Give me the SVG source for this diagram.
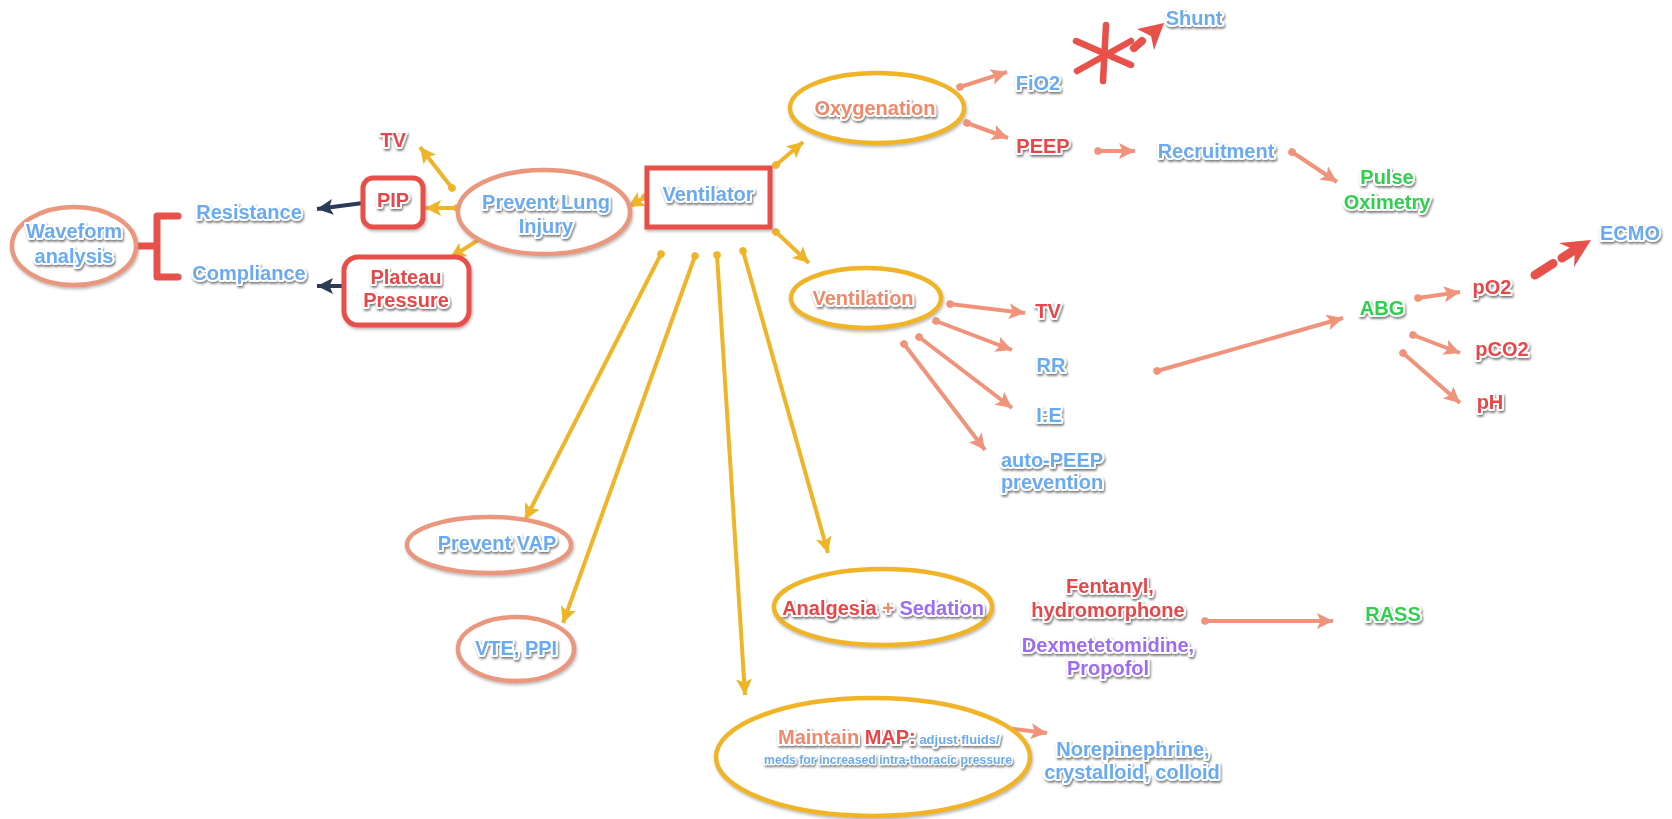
<svg xmlns="http://www.w3.org/2000/svg" width="1672" height="819" viewBox="0 0 1672 819">
<style>
.t{font-family:"Liberation Sans",Arial,sans-serif;font-weight:bold;font-size:20px;text-anchor:middle;stroke:#fff;stroke-width:4;stroke-linejoin:round;paint-order:stroke;filter:url(#ts)}
.b{fill:#6aaaf2}.r{fill:#e8474a}.s{fill:#f0896b}.g{fill:#2ed14e}.p{fill:#9c6cf2}
.es{fill:#fff;stroke:#eb977e;stroke-width:4.5;filter:url(#ss)}
.ey{fill:#fff;stroke:#f0b428;stroke-width:4.5;filter:url(#ss)}
.rb{fill:#fff;stroke:#e8504a;stroke-width:5;filter:url(#ss)}
.cy{stroke:#f0b428;stroke-width:4;fill:none;marker-start:url(#dy);marker-end:url(#ay)}
.cs{stroke:#f0937a;stroke-width:4;fill:none;marker-start:url(#ds);marker-end:url(#as)}
.cd{stroke:#2b3b55;stroke-width:4;fill:none;marker-end:url(#ad)}
.rd{stroke:#e8504a;fill:none;stroke-linecap:round}
</style>
<defs>
<filter id="ts" x="-10%" y="-30%" width="120%" height="160%"><feDropShadow dx="1" dy="1.8" stdDeviation="0.8" flood-color="#333" flood-opacity="0.65"/></filter>
<filter id="ss" x="-10%" y="-20%" width="120%" height="140%"><feDropShadow dx="1" dy="2" stdDeviation="1.5" flood-color="#666" flood-opacity="0.45"/></filter>
<marker id="ay" markerUnits="userSpaceOnUse" markerWidth="18" markerHeight="18" refX="16" refY="8" orient="auto"><path d="M0,0 L16,8 L0,16 L3.5,8 z" fill="#f0b428"/></marker>
<marker id="as" markerUnits="userSpaceOnUse" markerWidth="18" markerHeight="18" refX="16" refY="8" orient="auto"><path d="M0,0 L16,8 L0,16 L3.5,8 z" fill="#f0937a"/></marker>
<marker id="ad" markerUnits="userSpaceOnUse" markerWidth="18" markerHeight="18" refX="16" refY="8" orient="auto"><path d="M0,0 L16,8 L0,16 L3.5,8 z" fill="#2b3b55"/></marker>
<marker id="dy" markerUnits="userSpaceOnUse" markerWidth="10" markerHeight="10" refX="5" refY="5" orient="auto"><circle cx="5" cy="5" r="3.8" fill="#f0b428"/></marker>
<marker id="ds" markerUnits="userSpaceOnUse" markerWidth="10" markerHeight="10" refX="5" refY="5" orient="auto"><circle cx="5" cy="5" r="3.8" fill="#f0937a"/></marker>
</defs>
<rect width="1672" height="819" fill="#fff"/>

<g id="connectors">
<line class="cy" x1="645" y1="197" x2="628" y2="207"/>
<line class="cy" x1="452" y1="188" x2="420" y2="147"/>
<line class="cy" x1="457" y1="208" x2="425" y2="208"/>
<line class="cy" x1="494" y1="230" x2="450" y2="258"/>
<line class="cy" x1="776" y1="165" x2="803" y2="142"/>
<line class="cy" x1="776" y1="232" x2="809" y2="263"/>
<line class="cy" x1="661" y1="254" x2="525" y2="520"/>
<line class="cy" x1="695" y1="256" x2="563" y2="623"/>
<line class="cy" x1="717" y1="255" x2="745" y2="695"/>
<line class="cy" x1="743" y1="251" x2="828" y2="553"/>
<line class="cd" x1="363" y1="203" x2="317" y2="209"/>
<line class="cd" x1="345" y1="286" x2="317" y2="286"/>
<line class="cs" x1="960" y1="87" x2="1007" y2="72"/>
<line class="cs" x1="967" y1="123" x2="1008" y2="138"/>
<line class="cs" x1="1098" y1="151" x2="1135" y2="151"/>
<line class="cs" x1="1292" y1="152" x2="1337" y2="182"/>
<line class="cs" x1="950" y1="304" x2="1025" y2="313"/>
<line class="cs" x1="936" y1="321" x2="1012" y2="350"/>
<line class="cs" x1="919" y1="337" x2="1012" y2="408"/>
<line class="cs" x1="904" y1="344" x2="985" y2="450"/>
<line class="cs" x1="1157" y1="371" x2="1343" y2="318"/>
<line class="cs" x1="1418" y1="298" x2="1460" y2="292"/>
<line class="cs" x1="1413" y1="335" x2="1460" y2="353"/>
<line class="cs" x1="1403" y1="353" x2="1460" y2="403"/>
<line class="cs" x1="1205" y1="621" x2="1333" y2="621"/>
<line x1="1005" y1="728" x2="1047" y2="733" stroke="#f0937a" stroke-width="4" marker-end="url(#as)"/>
<path class="rd" d="M137,246 H157 M157,216 V277 M157,216 H178 M157,277 H178" stroke-width="7" stroke-linecap="butt"/>
<g id="star">
<line class="rd" x1="1106" y1="25" x2="1103" y2="81" stroke-width="6.5"/>
<line class="rd" x1="1076" y1="41" x2="1131" y2="65" stroke-width="6.5"/>
<line class="rd" x1="1077" y1="71" x2="1131" y2="41" stroke-width="6.5"/>
</g>
<g id="to-shunt">
<line class="rd" x1="1134" y1="48" x2="1142" y2="41" stroke-width="8"/>
<polygon points="1164,23 1154,50 1151,36 1137,29" fill="#e8504a"/>
</g>
<g id="to-ecmo">
<line class="rd" x1="1535" y1="275" x2="1553" y2="263.5" stroke-width="9"/>
<line class="rd" x1="1562" y1="258" x2="1576" y2="249" stroke-width="9"/>
<polygon points="1591,240 1574,267 1575,250 1559,243" fill="#e8504a"/>
</g>
</g>

<g id="waveform"><ellipse class="es" cx="74" cy="246" rx="62" ry="39"/><text class="t b" x="74" y="238">Waveform</text><text class="t b" x="74" y="263">analysis</text></g>
<g id="resistance"><text class="t b" x="249" y="219">Resistance</text></g>
<g id="compliance"><text class="t b" x="249" y="280">Compliance</text></g>
<g id="pip"><rect class="rb" x="363" y="178" width="60" height="49" rx="10"/><text class="t r" x="393" y="207">PIP</text></g>
<g id="plateau"><rect class="rb" x="344" y="257" width="125" height="68" rx="14"/><text class="t r" x="406" y="284">Plateau</text><text class="t r" x="406" y="307">Pressure</text></g>
<g id="tv-left"><text class="t r" x="393" y="147">TV</text></g>
<g id="prevent-lung"><ellipse class="es" cx="544" cy="212" rx="86" ry="42"/><text class="t b" x="546" y="209">Prevent Lung</text><text class="t b" x="546" y="233">Injury</text></g>
<g id="ventilator"><rect class="rb" x="647" y="168" width="123" height="59"/><text class="t b" x="708" y="201">Ventilator</text></g>
<g id="oxygenation"><ellipse class="ey" cx="877" cy="108" rx="87" ry="35"/><text class="t s" x="875" y="115">Oxygenation</text></g>
<g id="fio2"><text class="t b" x="1038" y="90">FiO2</text></g>
<g id="peep"><text class="t r" x="1043" y="153">PEEP</text></g>
<g id="shunt"><text class="t b" x="1194" y="25">Shunt</text></g>
<g id="recruitment"><text class="t b" x="1216" y="158">Recruitment</text></g>
<g id="pulse"><text class="t g" x="1387" y="184">Pulse</text><text class="t g" x="1387" y="209">Oximetry</text></g>
<g id="ecmo"><text class="t b" x="1630" y="240">ECMO</text></g>
<g id="po2"><text class="t r" x="1492" y="294">pO2</text></g>
<g id="abg"><text class="t g" x="1382" y="315">ABG</text></g>
<g id="pco2"><text class="t r" x="1502" y="356">pCO2</text></g>
<g id="ph"><text class="t r" x="1490" y="409">pH</text></g>
<g id="ventilation"><ellipse class="ey" cx="866" cy="298" rx="75" ry="30"/><text class="t s" x="863" y="305">Ventilation</text></g>
<g id="tv-right"><text class="t r" x="1048" y="318">TV</text></g>
<g id="rr"><text class="t b" x="1051" y="372">RR</text></g>
<g id="ie"><text class="t b" x="1049" y="422">I:E</text></g>
<g id="autopeep"><text class="t b" x="1052" y="467">auto-PEEP</text><text class="t b" x="1052" y="489">prevention</text></g>
<g id="vap"><ellipse class="es" cx="489" cy="545" rx="82" ry="28"/><text class="t b" x="497" y="550">Prevent VAP</text></g>
<g id="vte"><ellipse class="es" cx="516" cy="649" rx="58" ry="32"/><text class="t b" x="516" y="655">VTE, PPI</text></g>
<g id="analgesia"><ellipse class="ey" cx="883" cy="607" rx="109" ry="38"/><text class="t" x="883" y="615"><tspan class="r">Analgesia</tspan><tspan class="s"> + </tspan><tspan class="p">Sedation</tspan></text></g>
<g id="opioids"><text class="t r" x="1110" y="593">Fentanyl,</text><text class="t r" x="1108" y="617">hydromorphone</text></g>
<g id="sedatives"><text class="t p" x="1108" y="652">Dexmetetomidine,</text><text class="t p" x="1108" y="675">Propofol</text></g>
<g id="rass"><text class="t g" x="1393" y="621">RASS</text></g>
<g id="map"><ellipse class="ey" cx="873" cy="757" rx="157" ry="59"/><text class="t" x="778" y="744" style="text-anchor:start"><tspan class="s">Maintain </tspan><tspan class="r">MAP:</tspan><tspan class="b" style="font-size:13px"> adjust fluids/</tspan></text><text class="t b" x="888" y="764" style="font-size:12.2px;stroke-width:2.5">meds for increased intra-thoracic pressure</text></g>
<g id="pressors"><text class="t b" x="1133" y="756">Norepinephrine,</text><text class="t b" x="1132" y="779">crystalloid, colloid</text></g>
</svg>
